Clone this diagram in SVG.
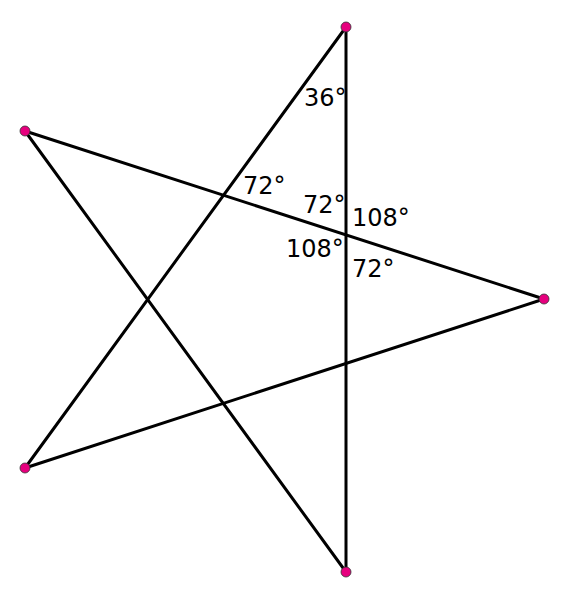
<svg xmlns="http://www.w3.org/2000/svg" width="571" height="600" viewBox="0 0 571 600">
<style>
.edge{stroke:#000;stroke-width:3;fill:none;stroke-linecap:round}
.pt{fill:#e6007e;stroke:#333;stroke-width:0.8}
.lbl{font-family:"DejaVu Sans",sans-serif;font-size:24px;fill:#000}
</style>
<rect width="571" height="600" fill="#fff"/>
<g id="connectors">
<line class="edge" x1="346" y1="27" x2="25" y2="468"/>
<line class="edge" x1="346" y1="27" x2="346" y2="572"/>
<line class="edge" x1="25" y1="131" x2="544" y2="299"/>
<line class="edge" x1="25" y1="131" x2="346" y2="572"/>
<line class="edge" x1="544" y1="299" x2="25" y2="468"/>
</g>
<g id="labels">
<text class="lbl" x="304" y="106">36°</text>
<text class="lbl" x="243" y="194">72°</text>
<text class="lbl" x="303" y="213">72°</text>
<text class="lbl" x="352" y="226">108°</text>
<text class="lbl" x="286" y="257">108°</text>
<text class="lbl" x="352" y="277">72°</text>
</g>
<g id="p-top"><circle class="pt" cx="346" cy="27" r="5"/></g>
<g id="p-lefttop"><circle class="pt" cx="25" cy="131" r="5"/></g>
<g id="p-right"><circle class="pt" cx="544" cy="299" r="5"/></g>
<g id="p-leftbottom"><circle class="pt" cx="25" cy="468" r="5"/></g>
<g id="p-bottom"><circle class="pt" cx="346" cy="572" r="5"/></g>
</svg>
